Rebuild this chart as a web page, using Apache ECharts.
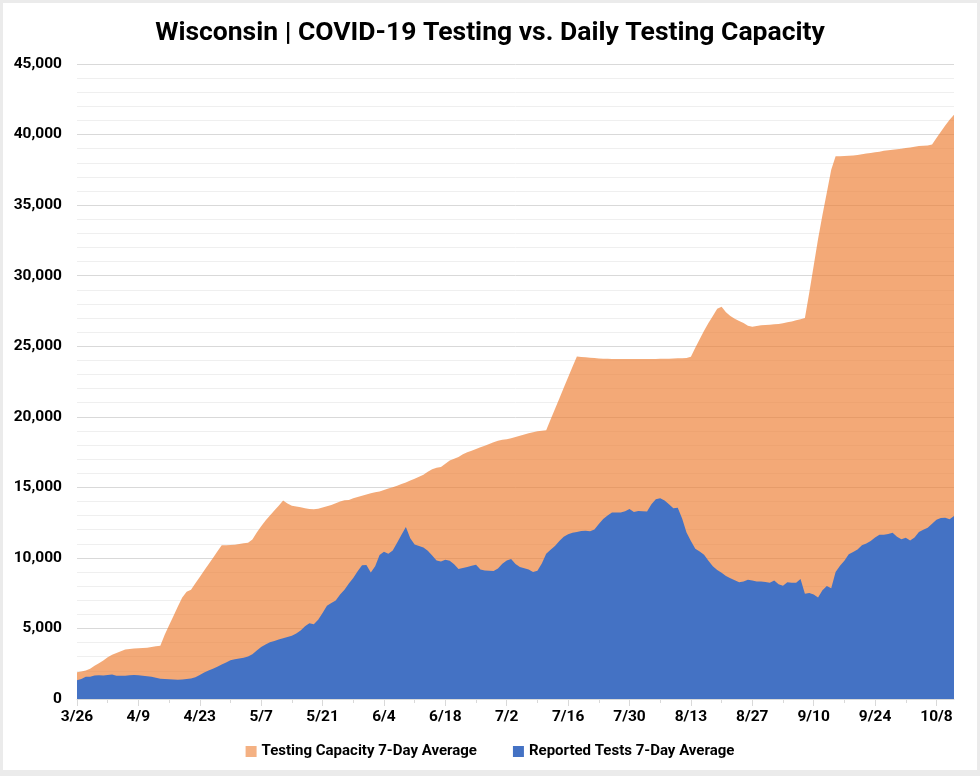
<!DOCTYPE html>
<html>
<head>
<meta charset="utf-8">
<script src="https://cdn.jsdelivr.net/npm/echarts@6/dist/echarts.min.js"></script>
<style>
html,body{margin:0;padding:0;background:#ebebeb;width:980px;height:776px;overflow:hidden;}
#chart{position:absolute;left:3px;top:3px;width:974px;height:767px;background:#fff;}
</style>
</head>
<body>
<div id="chart"></div>
<script>
// Dates 3/26 .. 10/12 (2020)
const monthDays = [[3,26,31],[4,1,30],[5,1,31],[6,1,30],[7,1,31],[8,1,31],[9,1,30],[10,1,12]];
const dates = [];
monthDays.forEach(function(m){ for (let d = m[1]; d <= m[2]; d++) dates.push(m[0] + '/' + d); });

const capacity = [
1890,1950,2020,2150,2350,2530,2720,2950,3140,3260,
3390,3500,3540,3570,3590,3610,3640,3680,3730,3780,
4550,5220,5880,6550,7200,7600,7750,8200,8650,9100,
9550,10000,10450,10890,10900,10910,10930,10980,11030,11080,
11300,11800,12250,12650,13000,13350,13700,14070,13850,13700,
13640,13590,13520,13460,13440,13480,13570,13660,13750,13880,
14000,14080,14110,14220,14320,14400,14500,14580,14650,14710,
14810,14920,15010,15120,15230,15350,15480,15600,15750,15900,
16100,16290,16380,16440,16680,16900,17020,17150,17350,17480,
17600,17720,17840,17950,18070,18200,18310,18370,18410,18480,
18560,18650,18740,18830,18910,18980,19010,19040,19800,20550,
21300,22050,22800,23550,24270,24240,24220,24190,24160,24130,
24120,24110,24100,24100,24100,24100,24100,24100,24100,24100,
24100,24100,24100,24110,24120,24120,24130,24140,24150,24160,
24250,24900,25500,26100,26650,27150,27650,27800,27400,27150,
26950,26780,26650,26450,26380,26440,26490,26510,26530,26550,
26580,26630,26690,26760,26840,26920,27000,28800,30700,32600,
34300,35900,37500,38460,38470,38480,38500,38520,38560,38610,
38660,38700,38740,38790,38850,38880,38920,38960,39000,39040,
39090,39140,39190,39210,39230,39300,39750,40200,40650,41050,
41400
];

const reported = [
1330,1420,1580,1570,1660,1690,1660,1700,1730,1650,
1640,1640,1680,1700,1680,1650,1610,1570,1500,1430,
1410,1400,1380,1370,1390,1420,1460,1540,1700,1870,
2020,2150,2290,2440,2580,2740,2810,2870,2920,3010,
3180,3430,3680,3870,4020,4110,4220,4310,4390,4490,
4640,4850,5150,5370,5300,5620,6100,6600,6800,6980,
7400,7750,8180,8580,9050,9480,9500,8970,9400,10200,
10440,10300,10520,11080,11640,12190,11400,10950,10850,10740,
10500,10170,9820,9750,9860,9800,9550,9210,9280,9360,
9440,9520,9180,9100,9080,9070,9250,9580,9820,9920,
9560,9350,9260,9180,9000,9080,9600,10300,10580,10850,
11200,11500,11680,11780,11840,11900,11930,11880,12020,12400,
12750,13000,13220,13220,13220,13300,13460,13250,13320,13300,
13290,13800,14150,14220,14070,13800,13520,13560,12800,11800,
11200,10650,10450,10230,9800,9400,9150,8950,8720,8550,
8420,8280,8330,8450,8400,8330,8330,8300,8230,8400,
8140,8020,8280,8240,8230,8500,7450,7510,7400,7200,
7700,8000,7840,9000,9450,9800,10250,10420,10600,10900,
11020,11200,11450,11640,11640,11700,11780,11500,11320,11420,
11240,11450,11840,12000,12130,12420,12700,12830,12840,12740,
12960
];

const yTicks = [0,5000,10000,15000,20000,25000,30000,35000,40000,45000];

const FONT = "Roboto,'Open Sans',sans-serif";
const chart = echarts.init(document.getElementById('chart'), null, {renderer:'canvas'});
chart.setOption({
  animation:false,
  backgroundColor:'#ffffff',
  title:{
    text:'Wisconsin | COVID-19 Testing vs. Daily Testing Capacity',
    left:'center', top:12,
    textStyle:{fontFamily:FONT, fontWeight:'bold', fontSize:26.5, color:'#000'}
  },
  legend:{
    bottom:6, left:'center',
    itemWidth:11, itemHeight:11, itemGap:36,
    icon:'rect',
    textStyle:{fontFamily:FONT, fontWeight:'bold', fontSize:15, color:'#000'},
    data:[
      {name:'Testing Capacity 7-Day Average', itemStyle:{color:'#F4B183'}},
      {name:'Reported Tests 7-Day Average', itemStyle:{color:'#4472C4'}}
    ]
  },
  grid:{left:74, top:61, width:877, height:635},
  xAxis:[{
    type:'category', data:dates, boundaryGap:false,
    axisLine:{lineStyle:{color:'#d9d9d9', width:1}},
    axisTick:{interval:6, length:4, lineStyle:{color:'#d9d9d9'}},
    axisLabel:{show:false},
    splitLine:{show:false}
  },{
    type:'category', data:dates, boundaryGap:false, position:'bottom',
    axisLine:{show:false},
    axisTick:{interval:13, length:7, lineStyle:{color:'#d9d9d9'}},
    axisLabel:{interval:13, margin:10, fontFamily:FONT, fontWeight:'bold', fontSize:15.5, color:'#000'},
    splitLine:{show:false}
  }],
  yAxis:{
    type:'value', min:yTicks[0], max:yTicks[yTicks.length-1], interval:5000,
    axisLine:{show:false}, axisTick:{show:false},
    axisLabel:{margin:15, fontFamily:FONT, fontWeight:'bold', fontSize:15.5, color:'#000',
      formatter:function(v){ return v.toLocaleString('en-US'); }},
    splitLine:{lineStyle:{color:'#d9d9d9', width:1}},
    minorTick:{show:false, splitNumber:5},
    minorSplitLine:{show:true, lineStyle:{color:'#efefef', width:1}}
  },
  series:[{
    name:'Testing Capacity 7-Day Average', type:'line', data:capacity,
    xAxisIndex:0, symbol:'none', smooth:false,
    lineStyle:{width:0}, itemStyle:{color:'#F4B183'},
    areaStyle:{color:'rgba(237,125,49,0.66)', opacity:1}
  },{
    name:'Reported Tests 7-Day Average', type:'line', data:reported,
    xAxisIndex:0, symbol:'none', smooth:false,
    lineStyle:{width:0}, itemStyle:{color:'#4472C4'},
    areaStyle:{color:'#4472C4', opacity:1}
  }]
});
</script>
</body>
</html>
